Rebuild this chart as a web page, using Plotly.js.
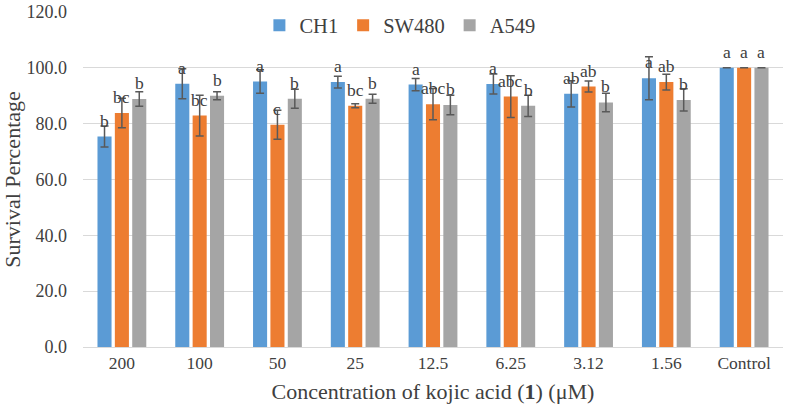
<!DOCTYPE html>
<html>
<head>
<meta charset="utf-8">
<script src="https://cdn.plot.ly/plotly-3.0.1.min.js"></script>
<style>
    html, body { margin: 0; padding: 0; background: white; }
    #chart { width: 788px; height: 412px; }
</style>
</head>
<body>
<div id="chart"></div>
<script>
// Survival percentage by concentration

let concentrations = ['200', '100', '50', '25', '12.5', '6.25', '3.12', '1.56', 'Control']

let ch1 = [75.4, 94.3, 95.1, 94.9, 94.0, 94.2, 90.7, 96.3, 100]
let ch1Err = [3.8, 5.4, 4.2, 2.1, 2.2, 3.6, 4.7, 7.7, 0]
let ch1Letters = ['b', 'a', 'a', 'a', 'a', 'a', 'ab', 'a', 'a']

let sw480 = [83.8, 82.9, 79.6, 86.4, 87.0, 89.7, 93.3, 94.9, 100]
let sw480Err = [5.3, 7.3, 5.2, 0.7, 5.6, 7.5, 2.0, 2.8, 0]
let sw480Letters = ['bc', 'bc', 'c', 'bc', 'abc', 'abc', 'ab', 'ab', 'a']

let a549 = [88.8, 90.0, 88.9, 88.9, 86.7, 86.4, 87.6, 88.5, 100]
let a549Err = [2.6, 1.4, 3.4, 1.6, 3.5, 3.8, 3.3, 4.0, 0]
let a549Letters = ['b', 'b', 'b', 'b', 'b', 'b', 'b', 'b', 'a']

let seriesNames = ['CH1', 'SW480', 'A549']
let colors = ['#5B9BD5', '#ED7D31', '#A5A5A5']

let serif = 'Liberation Serif'
let textColor = '#404040'

let margin = { t: 12, b: 65, l: 83, r: 5 }
let bargap = 0.33

let values = [ch1, sw480, a549]
let errors = [ch1Err, sw480Err, a549Err]
let letters = [ch1Letters, sw480Letters, a549Letters]

// category positions by index so numeric-looking labels stay categories
let xIdx = concentrations.map((c, j) => j)

let traces = values.map((v, i) => ({
    type: 'bar',
    x: xIdx,
    y: v,
    name: seriesNames[i],
    marker: { color: colors[i] },
    error_y: {
        type: 'data',
        array: errors[i],
        visible: true,
        color: '#595959',
        thickness: 1.5,
        width: 4
    },
    hoverinfo: 'y+name'
}))

// letters sit above each bar, shifted to the bar's slot in the group
let plotWidth = 788 - margin.l - margin.r
let slot = plotWidth / concentrations.length * (1 - bargap) / 3

let annotations = []
letters.forEach((arr, i) => {
    arr.forEach((txt, j) => {
        annotations.push({
            x: j,
            y: values[i][j],
            xref: 'x',
            yref: 'y',
            text: txt,
            showarrow: false,
            xshift: (i - 1) * slot,
            yshift: 16,
            yanchor: 'middle',
            font: { family: serif, size: 17.5, color: textColor }
        })
    })
})

let layout = {
    width: 788,
    height: 412,
    margin: margin,
    paper_bgcolor: 'white',
    plot_bgcolor: 'white',
    barmode: 'group',
    bargap: bargap,
    bargroupgap: 0.19,
    font: { family: serif, color: textColor },
    showlegend: true,
    legend: {
        orientation: 'h',
        x: 0.252,
        xanchor: 'left',
        y: 1.02,
        yanchor: 'top',
        bgcolor: 'rgba(255,255,255,0)',
        font: { family: serif, size: 20.5, color: textColor },
        traceorder: 'normal'
    },
    xaxis: {
        type: 'linear',
        range: [-0.5, concentrations.length - 0.5],
        tickmode: 'array',
        tickvals: xIdx,
        ticktext: concentrations,
        showgrid: false,
        zeroline: false,
        showline: true,
        linecolor: '#D9D9D9',
        linewidth: 1,
        ticks: '',
        tickfont: { family: serif, size: 17.5, color: textColor },
        title: {
            text: 'Concentration of kojic acid (<b>1</b>) (μM)',
            font: { family: serif, size: 22, color: textColor },
            standoff: 11
        },
        fixedrange: true
    },
    yaxis: {
        range: [0, 120],
        dtick: 20,
        tickformat: '.1f',
        showgrid: true,
        gridcolor: '#D9D9D9',
        gridwidth: 1,
        zeroline: false,
        showline: false,
        ticks: '',
        ticklabelstandoff: 15,
        tickfont: { family: serif, size: 18, color: textColor },
        title: {
            text: 'Survival Percentage',
            font: { family: serif, size: 22, color: textColor },
            standoff: 3
        },
        fixedrange: true
    },
    annotations: annotations
}

let config = { displayModeBar: false, responsive: false }

Plotly.newPlot('chart', traces, layout, config)
</script>
</body>
</html>
